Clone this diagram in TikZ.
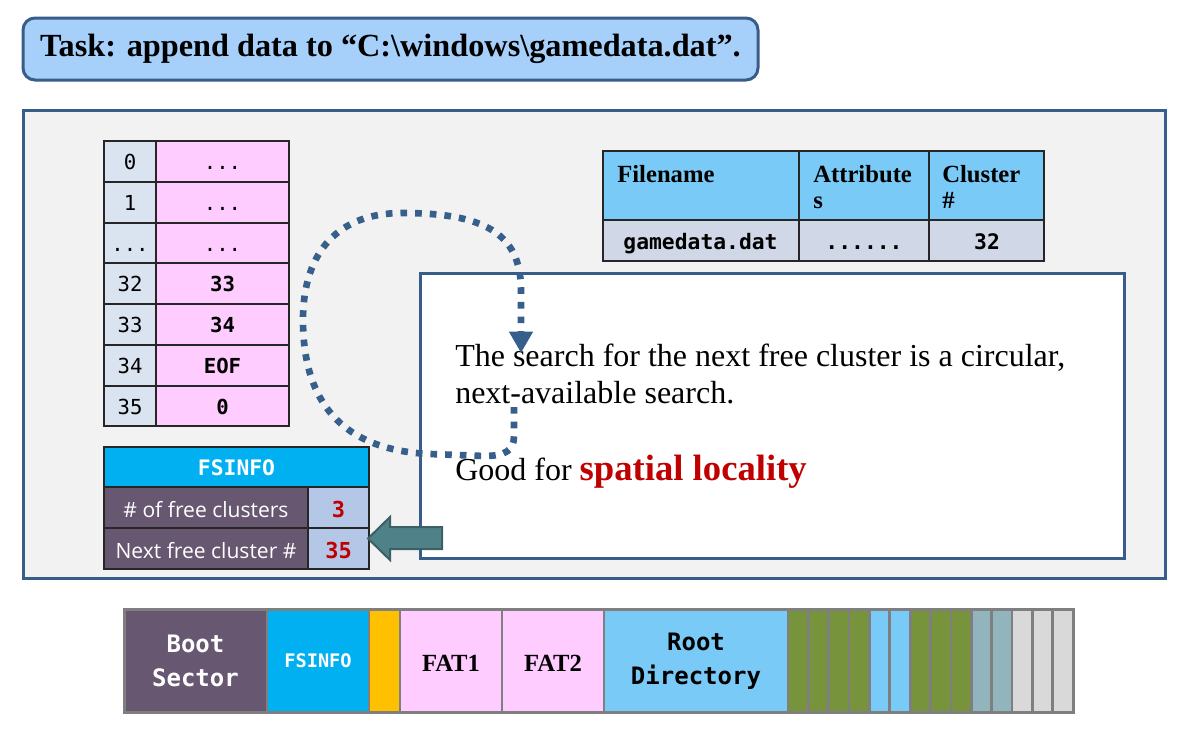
\documentclass[tikz,border=0pt]{standalone}
\usepackage{fontspec}
\setmainfont{Liberation Serif}
\setmonofont{DejaVu Sans Mono}
\newfontfamily\uisans{Open Sans}
\usetikzlibrary{arrows.meta}
\definecolor{dkblue}{HTML}{385D8A}
\definecolor{titlefill}{HTML}{A6D0FA}
\definecolor{panelgray}{HTML}{F2F2F2}
\definecolor{fatleft}{HTML}{DAE3F0}
\definecolor{pinkc}{HTML}{FFCCFF}
\definecolor{cyanc}{HTML}{00B0F0}
\definecolor{purplec}{HTML}{675770}
\definecolor{lbluec}{HTML}{B4C7E7}
\definecolor{redc}{HTML}{C00000}
\definecolor{skyc}{HTML}{79CAF7}
\definecolor{dirrow}{HTML}{D0D8E8}
\definecolor{arrowfill}{HTML}{4F8189}
\definecolor{arrowline}{HTML}{3C6066}
\definecolor{dotc}{HTML}{375F8C}
\definecolor{bargray}{HTML}{7F7F7F}
\definecolor{orangec}{HTML}{FFC000}
\definecolor{greenc}{HTML}{77933C}
\definecolor{gblue}{HTML}{92B4BD}
\definecolor{lgray}{HTML}{D9D9D9}
\def\tdots{...}
\def\sdots{......}
\begin{document}
\begin{tikzpicture}[x=0.75pt,y=-0.75pt,
  cellline/.style={draw=black!85,line width=1.1pt},
  barcell/.style={draw=bargray,line width=2pt},
  monot/.style={font=\ttfamily\fontsize{15.5}{15.5}\selectfont,inner sep=0pt,anchor=base},
  dirhead/.style={font=\bfseries\fontsize{18.5}{19.5}\selectfont,inner sep=0pt,anchor=base west,align=left},
  dirval/.style={font=\ttfamily\bfseries\fontsize{16}{16}\selectfont,inner sep=0pt,anchor=base},
  bodyt/.style={font=\fontsize{24}{27}\selectfont,inner sep=0pt,anchor=base west},
  bartext/.style={font=\ttfamily\bfseries\fontsize{18}{25.5}\selectfont,inner sep=0pt,align=center},
  dotarrow/.style={draw=dotc,line width=5pt,dash pattern=on 5pt off 6pt,-{Triangle[length=16pt,width=17pt]}}
]
\useasboundingbox (0,0) rectangle (1184,736);
\fill[white] (0,0) rectangle (1184,736);

% title
\node[draw=dkblue,fill=titlefill,line width=2.25pt,rounded corners=9pt,
  minimum width=551.25pt,minimum height=46.5pt,inner sep=0pt,
  font=\bfseries\fontsize{24.2}{24.2}\selectfont] (title) at (390.5,49)
  {Task: append data to “C:\textbackslash windows\textbackslash gamedata.dat”.};

% main panel
\node[draw=dkblue,fill=panelgray,line width=2.25pt,minimum width=856.5pt,minimum height=351pt,inner sep=0pt] (panel) at (594,344) {};

% FAT table
\foreach \a/\b/\l/\r [count=\i] in {141/182/0/\tdots,182/223/1/\tdots,223/263/\tdots/\tdots,263/304/32/\textbf{33},304/345/33/\textbf{34},345/386/34/\textbf{EOF},386/426/35/\textbf{0}}{
  \draw[cellline,fill=fatleft] (104,\a) rectangle (156,\b);
  \draw[cellline,fill=pinkc] (156,\a) rectangle (289,\b);
  \node[monot] (fi\i) at (130,{(\a+\b)/2+8}) {\l};
  \node[monot] (fv\i) at (222.5,{(\a+\b)/2+8}) {\r};
}

% FSINFO table
\draw[cellline,fill=cyanc] (104,447) rectangle (369,487);
\draw[cellline,fill=purplec] (104,487) rectangle (308,528);
\draw[cellline,fill=lbluec] (308,487) rectangle (369,528);
\draw[cellline,fill=purplec] (104,528) rectangle (308,569);
\draw[cellline,fill=lbluec] (308,528) rectangle (369,569);
\node[font=\ttfamily\bfseries\fontsize{16}{16}\selectfont,text=white,inner sep=0pt,anchor=base] (fshead) at (236.5,475) {FSINFO};
\node[font=\uisans\fontsize{15.8}{15.8}\selectfont,text=white,inner sep=0pt,anchor=base] (fsl1) at (206,517) {\# of free clusters};
\node[font=\uisans\fontsize{15.8}{15.8}\selectfont,text=white,inner sep=0pt,anchor=base] (fsl2) at (206,558) {Next free cluster \#};
\node[font=\ttfamily\bfseries\fontsize{16.5}{16.5}\selectfont,text=redc,inner sep=0pt,anchor=base] (fsv1) at (338.5,517) {3};
\node[font=\ttfamily\bfseries\fontsize{16.5}{16.5}\selectfont,text=redc,inner sep=0pt,anchor=base] (fsv2) at (338.5,558) {35};

% directory table
\draw[cellline,fill=skyc] (603,151) rectangle (799,220);
\draw[cellline,fill=skyc] (799,151) rectangle (929,220);
\draw[cellline,fill=skyc] (929,151) rectangle (1044,220);
\draw[cellline,fill=dirrow] (603,220) rectangle (799,261);
\draw[cellline,fill=dirrow] (799,220) rectangle (929,261);
\draw[cellline,fill=dirrow] (929,220) rectangle (1044,261);
\node[dirhead] (dh1) at (617,182) {Filename};
\node[dirhead] (dh2) at (813,208) {Attribute\\s};
\node[dirhead] (dh3) at (942,208) {Cluster\\\#};
\node[dirval] (dv1) at (700.5,249) {gamedata.dat};
\node[dirval] (dv2) at (864,249) {\sdots};
\node[dirval] (dv3) at (987,249) {32};

% text box
\node[draw=dkblue,fill=white,line width=2.25pt,minimum width=528pt,minimum height=213.75pt,inner sep=0pt] (tbox) at (772,415.5) {};
\node[bodyt] (t1) at (455,366) {The search for the next free cluster is a circular,};
\node[bodyt] (t2) at (455,403) {next-available search.};
\node[bodyt] (t3) at (455,480) {Good for \textcolor{redc}{\bfseries\fontsize{27.5}{27.5}\selectfont spatial locality}};

% block arrow
\coordinate (bt) at (368,538.5);
\draw[draw=arrowline,fill=arrowfill,line width=1.5pt,line join=miter]
  (442,527) -- (390,527) -- (390,517) -- (bt) -- (390,560) -- (390,549) -- (442,549) -- cycle;

% dotted circular arrow
\coordinate (ds) at (514,407);
\coordinate (de) at (521,353);
\draw[dotarrow] (ds) -- (514,436) .. controls (514,450) and (506,456) .. (484,456)
  -- (430,454) .. controls (340,450) and (303,400) .. (303,320)
  .. controls (303,250) and (340,213) .. (402,213)
  .. controls (482,213) and (521,232) .. (521,290) -- (de);

% bottom bar
\draw[barcell,fill=purplec] (124,609) rectangle (267,712);
\draw[barcell,fill=cyanc] (267,609) rectangle (369,712);
\draw[barcell,fill=orangec] (369,609) rectangle (400,712);
\draw[barcell,fill=pinkc] (400,609) rectangle (502,712);
\draw[barcell,fill=pinkc] (502,609) rectangle (604,712);
\draw[barcell,fill=skyc] (604,609) rectangle (788,712);
\foreach \c [count=\k from 0] in {greenc,greenc,greenc,greenc,skyc,skyc,greenc,greenc,greenc,gblue,gblue,lgray,lgray,lgray}{
  \draw[barcell,fill=\c] ({788+\k*20.36},609) rectangle ({788+(\k+1)*20.36},712);
}
\draw[draw=bargray,line width=2.25pt] (124,609) rectangle (1073,712);
\node[bartext,text=white] (bboot) at (195.5,661) {Boot\\Sector};
\node[font=\ttfamily\bfseries\fontsize{14}{14}\selectfont,text=white,inner sep=0pt,anchor=base] (bfs) at (318,667) {FSINFO};
\node[font=\bfseries\fontsize{18.5}{18.5}\selectfont,inner sep=0pt,anchor=base] (bfat1) at (451,671) {FAT1};
\node[font=\bfseries\fontsize{18.5}{18.5}\selectfont,inner sep=0pt,anchor=base] (bfat2) at (553,671) {FAT2};
\node[bartext] (broot) at (696,661) {Root\\Directory};
\end{tikzpicture}
\end{document}
